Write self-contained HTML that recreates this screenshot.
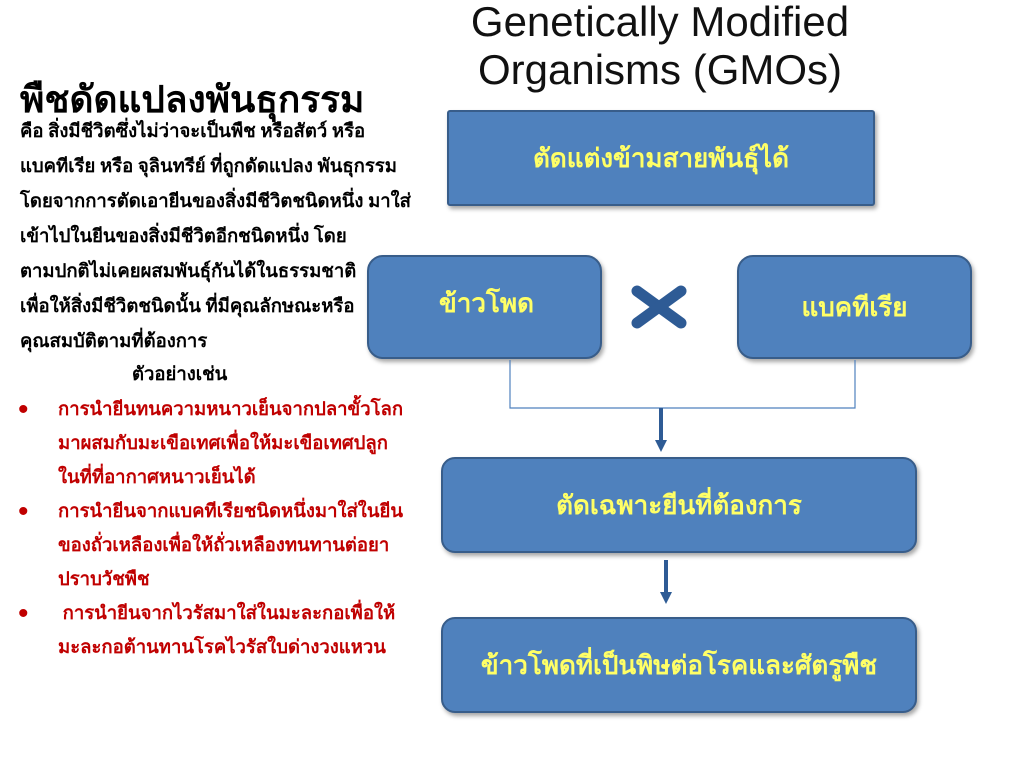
<!DOCTYPE html>
<html><head><meta charset="utf-8"><style>
body{margin:0;width:1024px;height:768px;background:#fff;position:relative;overflow:hidden;font-family:"Liberation Serif",serif}
.a{position:absolute;white-space:nowrap}
.box{position:absolute;background:#4f81bd;border:2px solid #385d8a;color:#ffff66;font-weight:bold;font-size:26px;display:flex;align-items:center;justify-content:center;box-sizing:border-box;box-shadow:2px 3px 4px rgba(0,0,0,.35)}
.p{font-size:18.5px;font-weight:bold;line-height:35px}
.r{color:#c00000;font-size:18.5px;font-weight:bold;line-height:34px}
</style></head><body>
<div class="a" style="left:440px;top:-2px;width:440px;text-align:center;font-family:'Liberation Sans',sans-serif;font-size:42px;line-height:48px;color:#111">Genetically Modified<br>Organisms (GMOs)</div>
<div class="a" style="left:20px;top:70px;font-size:37px;font-weight:bold;font-family:'Liberation Sans',sans-serif">พืชดัดแปลงพันธุกรรม</div>
<div class="a p" style="left:20px;top:115px">คือ สิ่งมีชีวิตซึ่งไม่ว่าจะเป็นพืช หรือสัตว์ หรือ<br>แบคทีเรีย หรือ จุลินทรีย์ ที่ถูกดัดแปลง พันธุกรรม<br>โดยจากการตัดเอายีนของสิ่งมีชีวิตชนิดหนึ่ง มาใส่<br>เข้าไปในยีนของสิ่งมีชีวิตอีกชนิดหนึ่ง โดย<br>ตามปกติไม่เคยผสมพันธุ์กันได้ในธรรมชาติ<br>เพื่อให้สิ่งมีชีวิตชนิดนั้น ที่มีคุณลักษณะหรือ<br>คุณสมบัติตามที่ต้องการ</div>
<div class="a p" style="left:132px;top:358px">ตัวอย่างเช่น</div>
<div class="a" style="left:18px;top:393px;color:#c00000;font-size:30px;line-height:34px;font-family:'Liberation Sans',sans-serif">•<br><br><br>•<br><br><br>•</div>
<div class="a r" style="left:58px;top:393px">การนำยีนทนความหนาวเย็นจากปลาขั้วโลก<br>มาผสมกับมะเขือเทศเพื่อให้มะเขือเทศปลูก<br>ในที่ที่อากาศหนาวเย็นได้<br>การนำยีนจากแบคทีเรียชนิดหนึ่งมาใส่ในยีน<br>ของถั่วเหลืองเพื่อให้ถั่วเหลืองทนทานต่อยา<br>ปราบวัชพืช<br>&nbsp;การนำยีนจากไวรัสมาใส่ในมะละกอเพื่อให้<br>มะละกอต้านทานโรคไวรัสใบด่างวงแหวน</div>
<div class="box" style="left:447px;top:110px;width:428px;height:96px;border-radius:3px">ตัดแต่งข้ามสายพันธุ์ได้</div>
<div class="box" style="left:367px;top:255px;width:235px;height:104px;border-radius:16px;justify-content:flex-start;padding-left:70px;padding-bottom:8px">ข้าวโพด</div>
<div class="box" style="left:737px;top:255px;width:235px;height:104px;border-radius:16px">แบคทีเรีย</div>
<svg class="a" style="left:0;top:0" width="1024" height="768">
<polyline points="510,360 510,408 855,408 855,360" fill="none" stroke="#4f81bd" stroke-width="1.2"/>
<g stroke="#2e5b95" stroke-width="11" stroke-linecap="round"><line x1="637" y1="291" x2="681" y2="323"/><line x1="681" y1="291" x2="637" y2="323"/></g>
<line x1="661" y1="408" x2="661" y2="440" stroke="#2e5b95" stroke-width="4"/><polygon points="655,440 667,440 661,452" fill="#2e5b95"/>
<line x1="666" y1="560" x2="666" y2="592" stroke="#2e5b95" stroke-width="4"/><polygon points="660,592 672,592 666,604" fill="#2e5b95"/>
</svg>
<div class="box" style="left:441px;top:457px;width:476px;height:96px;border-radius:14px">ตัดเฉพาะยีนที่ต้องการ</div>
<div class="box" style="left:441px;top:617px;width:476px;height:96px;border-radius:14px">ข้าวโพดที่เป็นพิษต่อโรคและศัตรูพืช</div>
</body></html>
